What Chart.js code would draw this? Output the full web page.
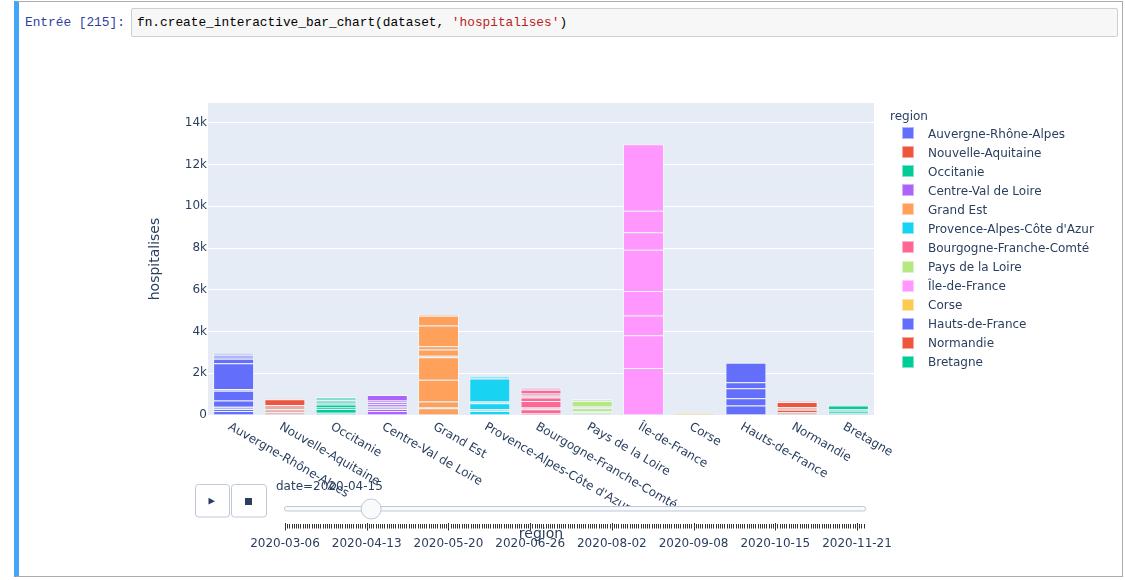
<!DOCTYPE html>
<html>
<head>
<meta charset="utf-8">
<script src="https://cdn.jsdelivr.net/npm/chart.js@4"></script>
<style>
  html, body { margin: 0; padding: 0; background: #fff; }
  #page { position: relative; width: 1125px; height: 580px; overflow: hidden; background: #fff; }
  #cell { position: absolute; left: 14px; top: 1px; width: 1103px; height: 574px;
          border: 1px solid #ababab; border-left: 5px solid #42A5F5; }
  #prompt { position: absolute; left: 25px; top: 14px; font-family: "Liberation Mono", monospace;
            font-size: 12.8px; color: #303F9F; line-height: 18px; white-space: pre; }
  #code { position: absolute; left: 131px; top: 8px; width: 980px; height: 27px; background: #f7f7f7;
          border: 1px solid #cfcfcf; border-radius: 2px; font-family: "Liberation Mono", monospace;
          font-size: 12.8px; line-height: 27px; padding-left: 5px; color: #000; white-space: pre; }
  #code .s { color: #BA2121; }
  #chart { position: absolute; left: 0; top: 0; }
</style>
</head>
<body>
<div id="page">
  <div id="cell"></div>
  <div id="prompt">Entrée [215]:</div>
  <div id="code">fn.create_interactive_bar_chart(dataset, <span class="s">'hospitalises'</span>)</div>
  <canvas id="chart" width="1125" height="580"></canvas>
</div>
<script>
// ---------- DATA ----------
const REGIONS = ['Auvergne-Rhône-Alpes', 'Nouvelle-Aquitaine', 'Occitanie', 'Centre-Val de Loire',
  'Grand Est', "Provence-Alpes-Côte d'Azur", 'Bourgogne-Franche-Comté', 'Pays de la Loire',
  'Île-de-France', 'Corse', 'Hauts-de-France', 'Normandie', 'Bretagne'];

// stacked pieces of each region's bar (bottom to top), hospitalised patients
const SEG_AUVERGNE   = [190, 100, 100, 300, 470, 80, 1235, 225, 190, 80];
const SEG_NOUVELLE   = [129, 144, 209, 273, 48];
const SEG_OCCITANIE  = [112, 177, 65, 144, 81, 128, 161];
const SEG_CENTRE     = [193, 96, 113, 112, 97, 80, 273];
const SEG_GRANDEST   = [321, 49, 273, 1044, 1077, 80, 290, 160, 997, 466, 96];
const SEG_PACA       = [193, 80, 289, 81, 1109, 128];
const SEG_BOURGOGNE  = [96, 177, 81, 321, 161, 96, 96, 177, 113];
const SEG_PAYSLOIRE  = [129, 64, 128, 81, 273, 96];
const SEG_IDF        = [2250, 1575, 948, 1173, 1976, 836, 1029, 3181];
const SEG_CORSE      = [90];
const SEG_HAUTS      = [450, 353, 483, 289, 932];
const SEG_NORMANDIE  = [129, 128, 113, 257, 32];
const SEG_BRETAGNE   = [112, 97, 80, 161, 32];
const SEGMENTS = [SEG_AUVERGNE, SEG_NOUVELLE, SEG_OCCITANIE, SEG_CENTRE, SEG_GRANDEST, SEG_PACA,
  SEG_BOURGOGNE, SEG_PAYSLOIRE, SEG_IDF, SEG_CORSE, SEG_HAUTS, SEG_NORMANDIE, SEG_BRETAGNE];

const Y_TICKS = [0, 2000, 4000, 6000, 8000, 10000, 12000, 14000];
const Y_TICK_LABELS = ['0', '2k', '4k', '6k', '8k', '10k', '12k', '14k'];
const SLIDER_DATES = ['2020-03-06', '2020-04-13', '2020-05-20', '2020-06-26', '2020-08-02',
  '2020-09-08', '2020-10-15', '2020-11-21'];
const CURRENT_DATE = '2020-04-15';
const FRAME_COUNT = 263;
const FRAMES_PER_LABEL = 37;
const CURRENT_FRAME = 39;

// ---------- STYLE ----------
const COLORS = ['#636EFA', '#EF553B', '#00CC96', '#AB63FA', '#FFA15A', '#19D3F3', '#FF6692',
  '#B6E880', '#FF97FF', '#FECB52', '#636EFA', '#EF553B', '#00CC96'];
// pieces drawn faded (transition ghosts in the original)
const FADED = [[2, 5, 8, 9], [0, 1, 2, 4], [0, 5, 6], [2], [1, 5, 10], [1, 3, 5], [2, 5, 8],
  [0, 1, 3, 5], [], [], [], [0, 2, 4], [0, 2, 4]];
const TXT = '#2a3f5f';
const FONT = '"DejaVu Sans", Verdana, sans-serif';

function rgba(hex, a) {
  const n = parseInt(hex.slice(1), 16);
  return `rgba(${n >> 16},${(n >> 8) & 255},${n & 255},${a})`;
}

const datasets = [];
SEGMENTS.forEach((segs, r) => {
  segs.forEach((v, s) => {
    const faded = FADED[r].includes(s);
    datasets.push({
      label: REGIONS[r],
      data: REGIONS.map((_, j) => (j === r ? v : null)),
      backgroundColor: faded ? rgba(COLORS[r], 0.42) : COLORS[r],
      borderColor: 'rgba(255,255,255,0.5)',
      borderWidth: 1,
      stack: 'all',
      barPercentage: 0.8,
      categoryPercentage: 1.0
    });
  });
});

const decor = {
  id: 'decor',
  beforeDraw(chart) {
    const { ctx, chartArea: a } = chart;
    ctx.save();
    ctx.fillStyle = '#E5ECF6';
    ctx.fillRect(a.left, a.top, a.right - a.left, a.bottom - a.top);
    ctx.restore();
  },
  afterDraw(chart) {
    const { ctx, chartArea: a } = chart;
    const xs = chart.scales.x;
    ctx.save();
    ctx.fillStyle = TXT;
    // rotated category labels
    ctx.font = '12px ' + FONT;
    ctx.textAlign = 'left';
    ctx.textBaseline = 'middle';
    REGIONS.forEach((lab, i) => {
      const x = xs.getPixelForValue(i);
      ctx.save();
      ctx.translate(x - 4.5, a.bottom + 11);
      ctx.rotate(Math.PI / 6);
      ctx.fillText(lab, 0, 0);
      ctx.restore();
    });
    // y title
    ctx.save();
    ctx.font = '14px ' + FONT;
    ctx.textAlign = 'center';
    ctx.translate(155, (a.top + a.bottom) / 2);
    ctx.rotate(-Math.PI / 2);
    ctx.fillText('hospitalises', 0, 0);
    ctx.restore();
    // legend
    ctx.font = '12px ' + FONT;
    ctx.textAlign = 'left';
    ctx.fillText('region', 890, 116.5);
    REGIONS.forEach((lab, i) => {
      const y = 133.3 + 19.03 * i;
      ctx.fillStyle = COLORS[i];
      ctx.fillRect(902, Math.round(y) - 6, 12, 12);
      ctx.strokeStyle = 'rgba(255,255,255,0.5)';
      ctx.lineWidth = 1;
      ctx.strokeRect(902.5, Math.round(y) - 5.5, 11, 11);
      ctx.fillStyle = TXT;
      ctx.fillText(lab, 928, y + 1.5);
    });
    // play / stop buttons
    ctx.strokeStyle = '#bec8d9';
    ctx.fillStyle = '#ffffff';
    ctx.lineWidth = 1;
    [[195.5, 229.5], [231.5, 266.5]].forEach(([l, r]) => {
      ctx.beginPath();
      ctx.roundRect(l, 484.5, r - l, 32.5, 3);
      ctx.fill();
      ctx.stroke();
    });
    ctx.fillStyle = TXT;
    ctx.beginPath();
    ctx.moveTo(208.5, 497.8);
    ctx.lineTo(208.5, 504.6);
    ctx.lineTo(215, 501.2);
    ctx.closePath();
    ctx.fill();
    ctx.fillRect(245, 498, 7, 7);
    // slider current value
    ctx.font = '12px ' + FONT;
    ctx.textAlign = 'left';
    ctx.fillText('date=' + CURRENT_DATE, 276, 487);
    // slider rail
    ctx.beginPath();
    ctx.roundRect(284.5, 506.5, 581, 4.5, 2);
    ctx.fillStyle = '#f8fafc';
    ctx.fill();
    ctx.strokeStyle = '#bec8d9';
    ctx.stroke();
    // slider ticks
    const x0 = 285, step = 2.2085;
    ctx.strokeStyle = '#333';
    ctx.lineWidth = 1;
    for (let k = 0; k < FRAME_COUNT; k++) {
      const x = Math.round(x0 + k * step) + 0.5;
      const major = k % FRAMES_PER_LABEL === 0;
      ctx.beginPath();
      ctx.moveTo(x, major ? 523 : 524);
      ctx.lineTo(x, major ? 530.5 : 528.5);
      ctx.stroke();
    }
    // x title (drawn under the slider like the original)
    ctx.fillStyle = TXT;
    ctx.font = '14px ' + FONT;
    ctx.textAlign = 'center';
    ctx.fillText('region', (a.left + a.right) / 2, 534);
    // slider labels
    ctx.font = '12px ' + FONT;
    SLIDER_DATES.forEach((d, m) => {
      ctx.fillText(d, x0 + m * FRAMES_PER_LABEL * step, 544);
    });
    // thumb
    ctx.beginPath();
    ctx.arc(x0 + CURRENT_FRAME * step, 509, 10, 0, Math.PI * 2);
    ctx.fillStyle = '#f8fafc';
    ctx.fill();
    ctx.strokeStyle = '#bec8d9';
    ctx.stroke();
    ctx.restore();
  }
};

new Chart(document.getElementById('chart'), {
  type: 'bar',
  data: { labels: REGIONS, datasets },
  options: {
    responsive: false,
    animation: false,
    layout: { padding: { left: 148, right: 251, top: 103, bottom: 155 } },
    plugins: { legend: { display: false }, tooltip: { enabled: false } },
    scales: {
      x: {
        stacked: true,
        afterFit: s => { s.height = 10; },
        ticks: { display: false },
        grid: { display: false },
        border: { display: false }
      },
      y: {
        stacked: true,
        min: 0,
        max: 14950,
        afterFit: s => { s.width = 60; },
        afterBuildTicks: s => { s.ticks = Y_TICKS.map(v => ({ value: v })); },
        ticks: {
          color: TXT,
          font: { family: FONT, size: 12 },
          padding: 1,
          callback: (v) => Y_TICK_LABELS[Y_TICKS.indexOf(v)]
        },
        grid: { color: '#ffffff', lineWidth: 1, drawTicks: false },
        border: { display: false }
      }
    }
  },
  plugins: [decor]
});
</script>
</body>
</html>
